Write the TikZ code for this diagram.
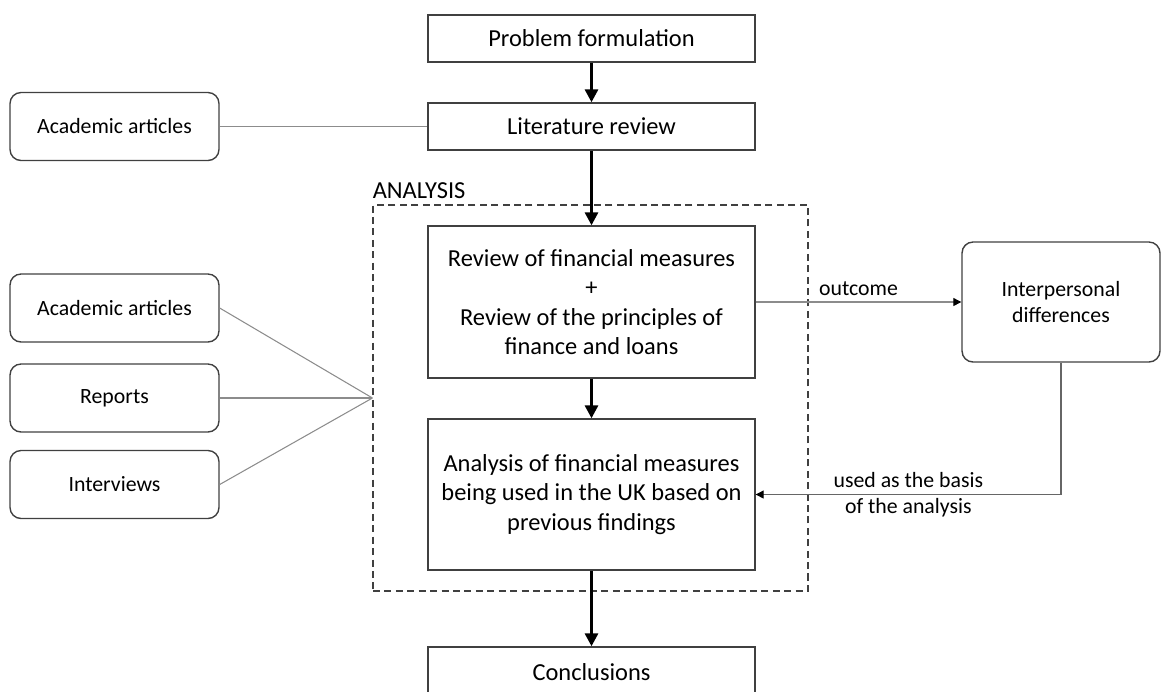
\documentclass[tikz,border=0pt]{standalone}
\usepackage{fontspec}
\setmainfont{Carlito}
\usetikzlibrary{arrows.meta,positioning,calc}
\definecolor{boxline}{RGB}{64,64,64}
\definecolor{linkgray}{RGB}{140,140,140}

\begin{document}
\begin{tikzpicture}[
  x=0.02cm, y=-0.02cm,
  stage/.style={draw=boxline, line width=0.8pt, align=center,
                minimum width=6.54cm, font=\fontsize{13.9}{16.8}\selectfont},
  source/.style={draw=boxline, line width=0.8pt, rounded corners=0.22cm,
                 align=center, minimum width=4.18cm, minimum height=1.36cm,
                 font=\fontsize{12.4}{14.8}\selectfont},
  mainflow/.style={-{Triangle[length=2.6mm, width=2.6mm]}, line width=1.7pt},
  link/.style={draw=linkgray, line width=0.6pt},
  linkarrow/.style={link, -{Triangle[length=1.6mm, width=1.6mm, color=black]}},
  lbl/.style={font=\fontsize{12.4}{14.8}\selectfont, align=center}
]
\useasboundingbox (0,0) rectangle (1165,691);

% main column
\node[stage, minimum height=0.94cm] (problem) at (591.5,38.5) {Problem formulation};
\node[stage, minimum height=0.94cm] (literature) at (591.5,126.5) {Literature review};
\node[stage, minimum height=3.04cm] (review) at (591.5,302)
  {Review of financial measures\\+\\Review of the principles of\\finance and loans};
\node[stage, minimum height=3.02cm] (analysis) at (591.5,494.5)
  {Analysis of financial measures\\being used in the UK based on\\previous findings};
\node[stage, minimum height=1.0cm] (conclusions) at (591.5,672) {Conclusions};

% analysis frame
\node[draw=boxline, line width=0.7pt, dash pattern=on 4pt off 2.5pt,
      minimum width=8.7cm, minimum height=7.72cm] (frame) at (590.5,398) {};
\node[anchor=south west, inner xsep=0pt, inner ysep=3pt,
      font=\fontsize{13.9}{16.8}\selectfont] (framelabel) at (frame.north west) {ANALYSIS};
\coordinate (fork) at (frame.west);

% sources
\node[source] (acadtop) at (114.5,126.5) {Academic articles};
\node[source] (acad) at (114.5,308) {Academic articles};
\node[source] (reports) at (114.5,398) {Reports};
\node[source] (interviews) at (114.5,484.5) {Interviews};

% outcome box
\node[source, minimum width=3.96cm, minimum height=2.4cm] (interp) at (1061,302)
  {Interpersonal\\differences};

\draw[mainflow] (problem) -- (literature);
\draw[mainflow] (literature) -- (review);
\draw[mainflow] (review) -- (analysis);
\draw[mainflow] (analysis) -- (conclusions);

\draw[link] (acadtop) -- (literature);
\draw[link] (acad.east) -- (fork);
\draw[link] (reports.east) -- (fork);
\draw[link] (interviews.east) -- (fork);

\draw[linkarrow] (review.east) -- node[lbl, above] {outcome} (interp.west);
\draw[linkarrow, draw=boxline!80] (interp.south) |- node[lbl, pos=0.75] {used as the basis\\of the analysis} (analysis.east);
\end{tikzpicture}
\end{document}
